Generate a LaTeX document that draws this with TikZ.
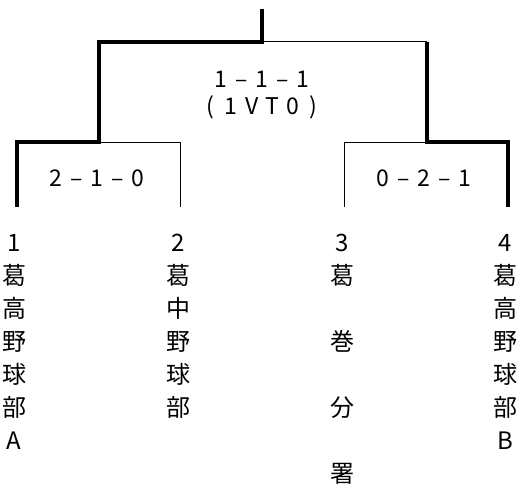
\documentclass[tikz,border=0pt]{standalone}
\usepackage{fontspec}
\newfontfamily\jp{Noto Sans CJK JP}
\newcommand\cb[1]{\makebox[20.5pt]{#1}}
\tikzset{
  thickline/.style={line width=4pt},
  thinline/.style={line width=1pt},
  score/.style={font=\jp\fontsize{23}{27}\selectfont, inner sep=0pt, anchor=base},
  lbl/.style={font=\jp\fontsize{24}{28}\selectfont, inner sep=0pt, anchor=base},
}
\begin{document}
\begin{tikzpicture}[x=1pt,y=-1pt]
\useasboundingbox (0,0) rectangle (527,487);
% bracket coordinates
\coordinate (top) at (262,9);
\coordinate (tj) at (262,42);
\coordinate (tl) at (99,42);
\coordinate (tr) at (427,42);
\coordinate (ml) at (99,142);
\coordinate (mr) at (427,142);
\coordinate (l1t) at (17,142);
\coordinate (l2t) at (180,142);
\coordinate (r3t) at (344,142);
\coordinate (r4t) at (508,142);
\coordinate (l1b) at (17,207);
\coordinate (l2b) at (180,207);
\coordinate (r3b) at (344,207);
\coordinate (r4b) at (508,207);
% thin lines
\draw[thinline] (tj) -- (tr);
\draw[thinline] (ml) -- (l2t) -- (l2b);
\draw[thinline] (mr) -- (r3t) -- (r3b);
% thick lines
\draw[thickline] (top) -- (tj) -- (tl) -- (ml) -- (l1t) -- (l1b);
\draw[thickline] (tr) -- (mr) -- (r4t) -- (r4b);
% scores
\node[score] (s1) at (262,88) {\cb{1}\cb{–}\cb{1}\cb{–}\cb{1}};
\node[score] (s1b) at (262,114) {\cb{(}\cb{1}\cb{V}\cb{T}\cb{0}\cb{)}};
\node[score] (s2) at (97,186) {\cb{2}\cb{–}\cb{1}\cb{–}\cb{0}};
\node[score] (s3) at (424,186) {\cb{0}\cb{–}\cb{2}\cb{–}\cb{1}};
% team labels
\foreach \c [count=\i] in {1,葛,高,野,球,部,A}
  \node[lbl] (a\i) at (14,{251+(\i-1)*33}) {\c};
\foreach \c [count=\i] in {2,葛,中,野,球,部}
  \node[lbl] (b\i) at (178,{251+(\i-1)*33}) {\c};
\node[lbl] (c1) at (342,251) {3};
\node[lbl] (c2) at (342,284) {葛};
\node[lbl] (c3) at (342,350) {巻};
\node[lbl] (c4) at (342,416) {分};
\node[lbl] (c5) at (342,482) {署};
\foreach \c [count=\i] in {4,葛,高,野,球,部,B}
  \node[lbl] (d\i) at (505,{251+(\i-1)*33}) {\c};
\end{tikzpicture}
\end{document}
